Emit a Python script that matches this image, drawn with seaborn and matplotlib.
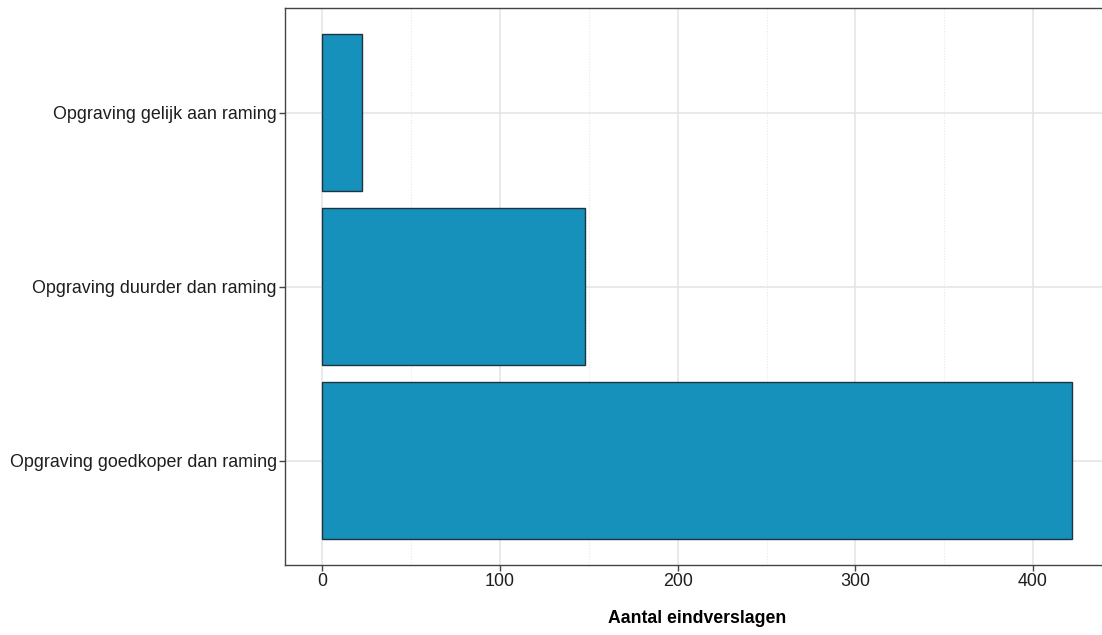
#!/usr/bin/env python

import pandas as pd
import matplotlib.pyplot as plt
import matplotlib.ticker as mticker
import seaborn as sns

categories = ["Opgraving gelijk aan raming",
              "Opgraving duurder dan raming",
              "Opgraving goedkoper dan raming"]
counts = [22, 148, 422]

df = pd.DataFrame({"uitkomst": categories, "aantal": counts})

sns.set_theme(style="white")
plt.rcParams['font.family'] = ['Liberation Sans', 'DejaVu Sans']

fig = plt.figure(figsize=(11.02, 6.35), dpi=100)
ax = fig.add_axes([0.2586, 0.1102, 0.7483, 0.877])

sns.barplot(data=df, x="aantal", y="uitkomst", order=categories, orient="h",
            color="#1591BB", saturation=1, width=0.9,
            edgecolor="#1E3440", linewidth=1.0, ax=ax, zorder=3)

# ggplot-style expansion
xmax = max(counts)
ax.set_xlim(-0.05 * xmax, 1.05 * xmax)
ax.set_ylim(2.6, -0.6)

ax.xaxis.set_major_locator(mticker.MultipleLocator(100))
ax.xaxis.set_minor_locator(mticker.MultipleLocator(50))
ax.grid(True, which="major", axis="both", color="#E3E3E3", linewidth=1.1, zorder=0)
ax.grid(True, which="minor", axis="x", color="#E8E8E8", linewidth=0.8,
        linestyle=(0, (1, 1.5)), zorder=0)
ax.set_axisbelow(True)

for side in ax.spines.values():
    side.set_color("#444444")
    side.set_linewidth(1.0)

ax.tick_params(axis="both", which="major", length=4, width=1.0, color="#444444",
               labelsize=12.9, labelcolor="#1E1E1E", pad=2, bottom=True, left=True)
ax.tick_params(axis="x", which="minor", length=0)

ax.set_ylabel("")
ax.set_xlabel("Aantal eindverslagen", fontsize=12.7, fontweight="bold",
              color="black", labelpad=14)

plt.savefig("out.png", dpi=100)
plt.close()
